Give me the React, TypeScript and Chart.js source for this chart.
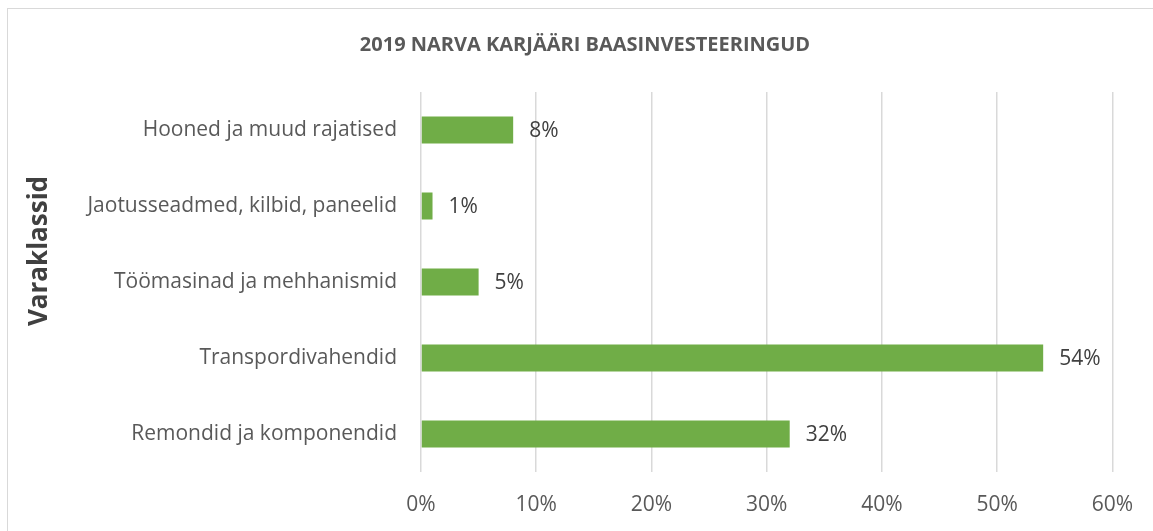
import React, { useEffect, useRef } from 'react';
import { Chart, registerables } from 'chart.js';

Chart.register(...registerables);

const chartTitle = '2019 NARVA KARJÄÄRI BAASINVESTEERINGUD';
const axisTitle = 'Varaklassid';
const categories = [
  'Hooned ja muud rajatised',
  'Jaotusseadmed, kilbid, paneelid',
  'Töömasinad ja mehhanismid',
  'Transpordivahendid',
  'Remondid ja komponendid',
];
const values = [8, 1, 5, 54, 32];
const xMin = 0;
const xMax = 60;
const xStep = 10;

const FONT = '"Open Sans"';

export default function App() {
  const ref = useRef<HTMLCanvasElement>(null);

  useEffect(() => {
    if (!ref.current) return;

    const labelPlugin = {
      id: 'barLabels',
      afterDatasetsDraw(chart: any) {
        const ctx = chart.ctx;
        const meta = chart.getDatasetMeta(0);
        ctx.save();
        ctx.font = `21px ${FONT}`;
        ctx.fillStyle = '#404040';
        ctx.textBaseline = 'middle';
        ctx.textAlign = 'left';
        meta.data.forEach((bar: any, i: number) => {
          ctx.fillText(values[i] + '%', bar.x + 16, bar.y + 1);
        });
        ctx.restore();
      },
    };

    const titlesPlugin = {
      id: 'titles',
      afterDraw(chart: any) {
        const ctx = chart.ctx;
        ctx.save();
        ctx.textAlign = 'center';
        ctx.textBaseline = 'middle';
        ctx.font = `bold 20px ${FONT}`;
        ctx.fillStyle = '#595959';
        ctx.fillText(chartTitle, 577, 36);
        ctx.translate(32, 242);
        ctx.rotate(-Math.PI / 2);
        ctx.font = `bold 26px ${FONT}`;
        ctx.fillStyle = '#404040';
        ctx.fillText(axisTitle, 0, 0);
        ctx.restore();
      },
    };

    const chart = new Chart(ref.current, {
      type: 'bar',
      data: {
        labels: categories,
        datasets: [
          {
            data: values,
            backgroundColor: '#70AD47',
            borderWidth: 0,
            barPercentage: 0.355,
            categoryPercentage: 1,
          },
        ],
      },
      options: {
        indexAxis: 'y',
        animation: false,
        responsive: false,
        maintainAspectRatio: false,
        layout: { padding: { left: 0, right: 38, top: 83, bottom: 0 } },
        plugins: {
          legend: { display: false },
          tooltip: { enabled: false },
          title: { display: false },
        },
        scales: {
          x: {
            min: xMin,
            max: xMax,
            grid: { color: '#d9d9d9', lineWidth: 1.5, drawTicks: false },
            border: { display: false },
            ticks: {
              stepSize: xStep,
              padding: 20,
              color: '#595959',
              font: { family: FONT, size: 21 },
              callback: (v: any) => v + '%',
            },
            afterFit: (scale: any) => {
              scale.height = 59;
            },
          },
          y: {
            grid: { display: false, drawTicks: false },
            border: { display: false },
            ticks: {
              padding: 24,
              color: '#595959',
              font: { family: FONT, size: 21 },
            },
            afterFit: (scale: any) => {
              scale.width = 413;
            },
          },
        },
      },
      plugins: [labelPlugin, titlesPlugin],
    });

    return () => chart.destroy();
  }, []);

  return (
    <div style={{ position: 'fixed', left: 0, top: 0, width: 1153, height: 531, background: '#fff' }}>
      <div
        style={{
          position: 'absolute',
          left: 7,
          top: 8,
          width: 1146,
          height: 523,
          borderLeft: '1px solid #d9d9d9',
          borderTop: '1px solid #d9d9d9',
          boxSizing: 'border-box',
        }}
      />
      <canvas
        ref={ref}
        width={1145}
        height={522}
        style={{ position: 'absolute', left: 8, top: 9, width: 1145, height: 522 }}
      />
    </div>
  );
}
